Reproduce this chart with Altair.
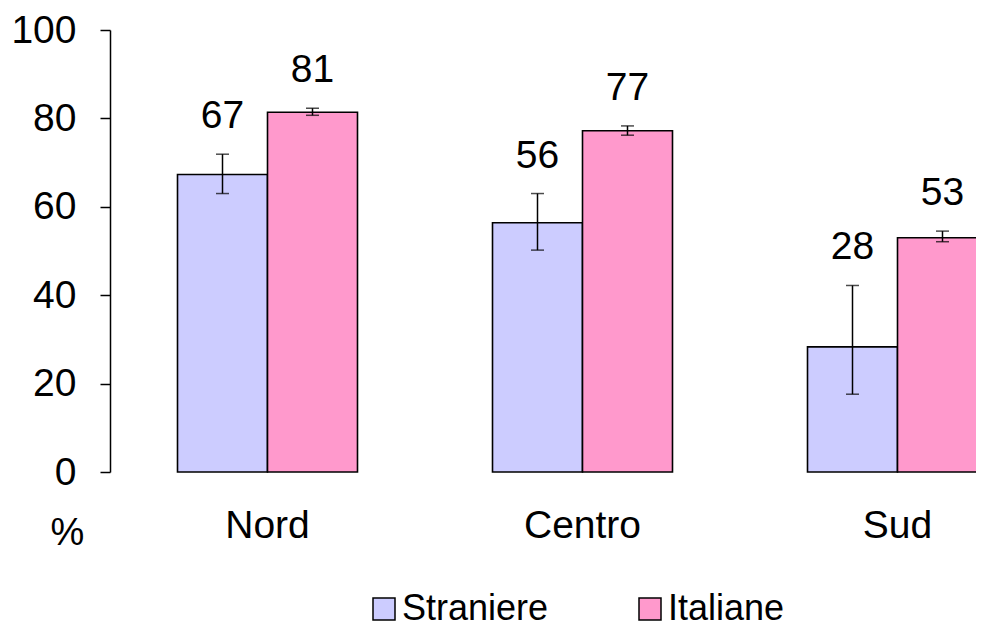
import altair as alt
import pandas as pd

regions = ["Nord", "Centro", "Sud"]
groups = ["Straniere", "Italiane"]
straniere_val = [67.3, 56.4, 28.3]
straniere_lo = [63.0, 50.2, 17.6]
straniere_hi = [71.9, 63.0, 42.2]
straniere_lab = [67, 56, 28]
italiane_val = [81.4, 77.2, 53.0]
italiane_lo = [80.7, 76.2, 52.1]
italiane_hi = [82.3, 78.3, 54.5]
italiane_lab = [81, 77, 53]
colors = ["#CCCCFF", "#FF99CC"]
y_ticks = [0, 20, 40, 60, 80, 100]

rows = []
for i, r in enumerate(regions):
    rows.append(dict(region=r, group="Straniere", value=straniere_val[i],
                     lo=straniere_lo[i], hi=straniere_hi[i], label=straniere_lab[i]))
    rows.append(dict(region=r, group="Italiane", value=italiane_val[i],
                     lo=italiane_lo[i], hi=italiane_hi[i], label=italiane_lab[i]))
df = pd.DataFrame(rows)

FONT = "Liberation Sans"

x = alt.X("region:N", sort=regions,
          scale=alt.Scale(range=[0, 945], paddingInner=0.4286, paddingOuter=0.2143),
          axis=alt.Axis(title=None, labelAngle=0, domain=False, ticks=False,
                        labelFontSize=39, labelPadding=34, labelColor="black",
                        labelFont=FONT))
xo = alt.XOffset("group:N", sort=groups,
                 scale=alt.Scale(paddingInner=0, paddingOuter=0))
yscale = alt.Scale(domain=[0, 100], nice=False)

base = alt.Chart(df)

bars = base.mark_bar(stroke="black", strokeWidth=1.6).encode(
    x=x, xOffset=xo,
    y=alt.Y("value:Q", stack=None, scale=yscale,
            axis=alt.Axis(values=y_ticks, title="%", titleAngle=0,
                          titleX=-43, titleY=503, titleAlign="center",
                          titleBaseline="middle", titleFontSize=38,
                          titleFontWeight="normal", titleFont=FONT,
                          titleColor="black",
                          labelFontSize=39, labelFont=FONT, labelColor="black",
                          labelPadding=24, grid=False, tickSize=10)),
    color=alt.Color("group:N", sort=groups,
                    scale=alt.Scale(domain=groups, range=colors),
                    legend=alt.Legend(title=None, orient="none", legendX=256,
                                      legendY=561, direction="horizontal",
                                      symbolType="square", symbolSize=484,
                                      symbolStrokeColor="black",
                                      symbolStrokeWidth=1.5,
                                      labelFontSize=36, labelFont=FONT,
                                      labelOffset=0, columnPadding=83,
                                      labelColor="black")),
)

rules = base.mark_rule(color="black", strokeWidth=1.5).encode(
    x=x, xOffset=xo,
    y=alt.Y("lo:Q", scale=yscale), y2="hi:Q",
)
caps_lo = base.mark_tick(color="black", size=13, thickness=1.5).encode(
    x=x, xOffset=xo, y=alt.Y("lo:Q", scale=yscale),
)
caps_hi = base.mark_tick(color="black", size=13, thickness=1.5).encode(
    x=x, xOffset=xo, y=alt.Y("hi:Q", scale=yscale),
)
labels = base.mark_text(dy=-38, fontSize=39, font=FONT, color="black",
                        baseline="middle").encode(
    x=x, xOffset=xo, y=alt.Y("hi:Q", scale=yscale), text="label:Q",
)

chart = alt.layer(bars, rules, caps_lo, caps_hi, labels).properties(
    width=866, height=442,
    autosize=alt.AutoSizeParams(type="none"),
    padding={"left": 102, "top": 22, "right": 0, "bottom": 156},
).configure_view(stroke=None).configure_axis(
    domainColor="black", tickColor="black", domainWidth=1.5, tickWidth=1.5,
)

chart.save("out.html", embed_options={"renderer": "svg", "actions": False})
